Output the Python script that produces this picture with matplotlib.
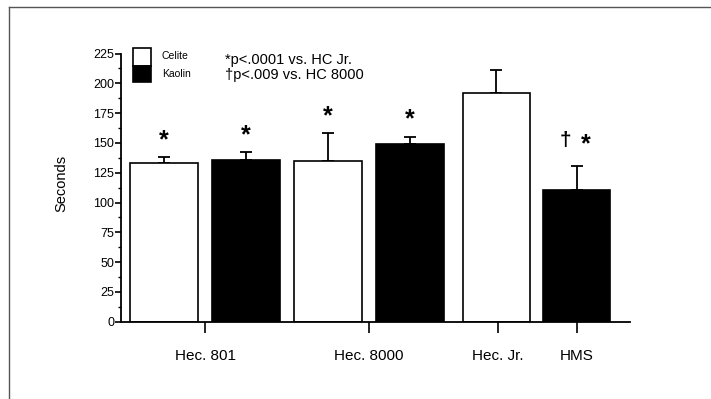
import numpy as np
import matplotlib
matplotlib.use("Agg")
import matplotlib.pyplot as plt
from matplotlib.patches import Rectangle
from matplotlib.lines import Line2D

plt.rcParams['font.family'] = ['Liberation Sans', 'DejaVu Sans']

# data
groups = ['Hec. 801', 'Hec. 8000', 'Hec. Jr.', 'HMS']
reagent = ['Celite', 'Kaolin', 'Celite', 'Kaolin', 'Celite', 'Kaolin']
seconds = [133.5, 136.0, 135.0, 149.0, 192.0, 110.5]
sd = [4.5, 6.0, 23.0, 6.0, 19.5, 20.0]
marks = ['*', '*', '*', '*', '', '']
notes = ['*p<.0001 vs. HC Jr.', '\u2020p<.009 vs. HC 8000']

# layout
bar_x = np.array([0, 1, 2, 3, 4.05, 5.03])
group_x = [0.5, 2.5, 4.07, 5.03]
bar_w = 0.82
colors = {'Celite': 'white', 'Kaolin': 'black'}

fig = plt.figure(figsize=(7.11, 3.99), dpi=100)
ax = fig.add_axes([0.1702, 0.1937, 0.7159, 0.6722])

ax.bar(bar_x, seconds, width=bar_w, color=[colors[r] for r in reagent],
       edgecolor='black', linewidth=1.2, zorder=2)
ax.errorbar(bar_x, seconds, yerr=[np.zeros(len(sd)), sd], fmt='none',
            ecolor='black', elinewidth=1.3, capsize=4, capthick=1.3, zorder=1)

for x, v, e, m in zip(bar_x, seconds, sd, marks):
    if m:
        ax.text(x, v + e + 14.5, m, ha='center', va='center', fontsize=18,
                fontweight='bold')
# HMS dagger and star
ax.text(bar_x[5] - 0.14, seconds[5] + sd[5] + 21.5, '\u2020', ha='center',
        va='center', fontsize=15, fontweight='bold')
ax.text(bar_x[5] + 0.11, seconds[5] + sd[5] + 18, '*', ha='center',
        va='center', fontsize=18, fontweight='bold')

ax.set_ylim(0, 225)
ax.set_xlim(-0.524, 5.68)
ax.set_yticks(np.arange(0, 226, 25))
ax.set_yticks(np.arange(0, 226, 12.5), minor=True)
ax.set_xticks(group_x)
ax.set_xticklabels(groups, fontsize=11)
ax.tick_params(axis='y', which='major', direction='out', length=4, width=1.2,
               labelsize=9, pad=1)
ax.tick_params(axis='y', which='minor', direction='out', length=2, width=1)
ax.tick_params(axis='x', direction='out', length=8, width=1.2, pad=12)
for s in ['top', 'right']:
    ax.spines[s].set_visible(False)
for s in ['left', 'bottom']:
    ax.spines[s].set_linewidth(1.3)

ax.set_ylabel('Seconds', fontsize=10.5)
ax.yaxis.set_label_coords(-0.104, 0.517)

# legend boxes
ax.add_patch(Rectangle((0.0236, 0.955), 0.035, 0.066, transform=ax.transAxes,
                       facecolor='white', edgecolor='black', lw=1.2, clip_on=False))
ax.add_patch(Rectangle((0.0236, 0.892), 0.035, 0.063, transform=ax.transAxes,
                       facecolor='black', edgecolor='black', lw=1.2, clip_on=False))
ax.text(0.08, 0.99, 'Celite', transform=ax.transAxes, fontsize=7.5, va='center')
ax.text(0.08, 0.925, 'Kaolin', transform=ax.transAxes, fontsize=7.5, va='center')
ax.text(0.204, 0.976, notes[0], transform=ax.transAxes, fontsize=10.5, va='center')
ax.text(0.204, 0.918, notes[1], transform=ax.transAxes, fontsize=10.5, va='center')

# scanned page frame
fig.add_artist(Line2D([0.0127, 1.0], [0.9817, 0.9817], color='#555555', lw=1))
fig.add_artist(Line2D([0.0127, 0.0127], [0.0, 0.9817], color='#555555', lw=1))

fig.savefig('out.png', dpi=100)
